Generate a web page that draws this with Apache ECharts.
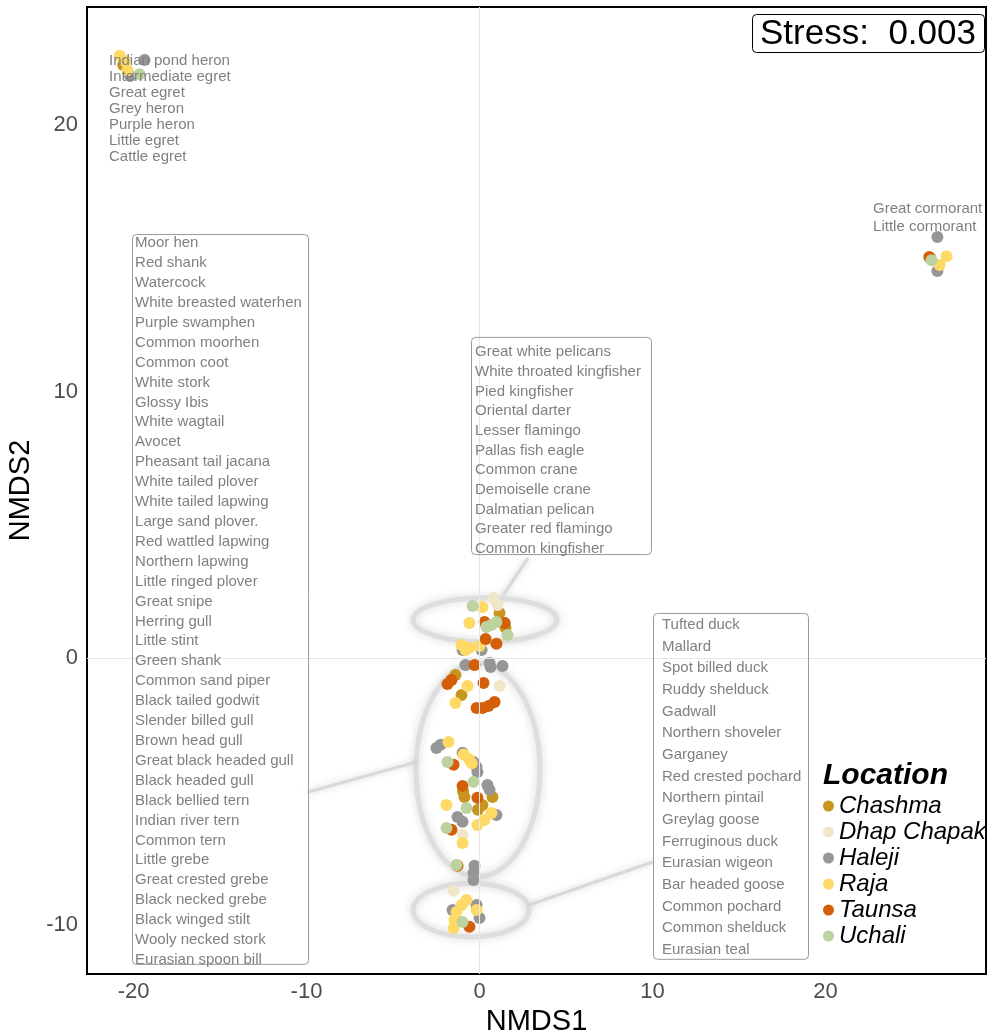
<!DOCTYPE html>
<html>
<head>
<meta charset="utf-8">
<script src="https://cdn.jsdelivr.net/npm/echarts@6/dist/echarts.min.js"></script>
<style>
  html, body { margin: 0; padding: 0; background: #ffffff; }
  #chart { width: 989px; height: 1036px; }
</style>
</head>
<body>
<div id="chart"></div>
<script>
// NMDS site scores, one array per location: [NMDS1, NMDS2]
const locations = ['Chashma', 'Dhap Chapak', 'Haleji', 'Raja', 'Taunsa', 'Uchali'];

const chashma = [
  [-20.6, 22.25], [26.07, 15.0], [1.16, 1.69], [1.45, 1.31], [1.5, 1.13],
  [-1.39, -0.64], [-1.04, -1.39], [-0.95, -5.0], [-0.87, -5.22], [0.75, -5.22],
  [0.17, -5.52], [-0.09, -5.7]
];
const dhapChapak = [
  [0.81, 2.25], [1.04, 1.99], [1.16, -1.05], [-0.98, -6.64], [-1.5, -8.74]
];
const haleji = [
  [-19.36, 22.44], [-20.2, 21.84], [26.47, 15.8], [26.47, 14.52],
  [-0.98, 0.3], [0.12, 0.3], [-0.81, -0.26], [0.58, -0.19], [0.64, -0.34], [1.33, -0.3],
  [-2.49, -3.38], [-2.25, -3.26], [-0.98, -3.56], [-0.35, -3.9], [-0.17, -4.09], [-0.12, -4.28],
  [0.46, -4.77], [0.58, -4.95], [-1.27, -5.97], [-0.98, -6.15], [0.98, -5.89],
  [-0.29, -7.8], [-0.35, -8.07], [-0.35, -8.33], [-1.56, -9.46], [-0.17, -9.27], [0.0, -9.76]
];
const raja = [
  [-20.8, 22.6], [-20.5, 22.4], [-20.35, 22.06], [27.0, 15.08], [26.6, 14.75],
  [0.17, 1.91], [-0.58, 1.31], [-1.04, 0.49], [-0.58, 0.38], [0.0, 0.45], [-0.8, 0.3],
  [-0.69, -1.05], [-1.39, -1.69], [-1.79, -3.15], [-0.92, -3.62], [-0.6, -3.8], [-0.45, -3.95],
  [-1.91, -5.52], [-0.12, -6.27], [0.29, -6.08], [0.69, -5.82], [-0.98, -6.94],
  [-0.75, -9.08], [-1.04, -9.27], [-1.33, -9.53], [-1.45, -9.83], [-1.5, -10.13], [-0.17, -9.46]
];
const taunsa = [
  [26.0, 15.05], [0.29, 1.35], [1.45, 1.31], [0.35, 0.71], [0.98, 0.53],
  [-0.29, -0.26], [-1.85, -0.98], [-1.62, -0.83], [0.23, -0.94],
  [-0.17, -1.88], [0.17, -1.88], [0.52, -1.8], [0.87, -1.65],
  [-1.5, -4.01], [-0.98, -4.8], [-0.12, -5.25], [-1.62, -6.45], [-1.27, -7.8], [-0.58, -10.09]
];
const uchali = [
  [-19.65, 21.91], [26.13, 14.93], [-0.4, 1.95], [0.4, 1.16], [0.69, 1.24], [0.98, 1.35],
  [1.62, 0.86], [-1.85, -3.9], [-0.35, -4.65], [-0.75, -5.63], [-1.91, -6.38],
  [-1.33, -7.77], [-0.98, -9.91]
];

const xTicks = [-20, -10, 0, 10, 20];
const yTicks = [-10, 0, 10, 20];
const stressValue = '0.003';

// Species grouped by the cluster they belong to
const heronSpecies = ['Indian pond heron', 'Intermediate egret', 'Great egret', 'Grey heron',
  'Purple heron', 'Little egret', 'Cattle egret'];
const cormorantSpecies = ['Great cormorant', 'Little cormorant'];
const waderSpecies = ['Moor hen', 'Red shank', 'Watercock', 'White breasted waterhen', 'Purple swamphen',
  'Common moorhen', 'Common coot', 'White stork', 'Glossy Ibis', 'White wagtail', 'Avocet',
  'Pheasant tail jacana', 'White tailed plover', 'White tailed lapwing', 'Large sand plover.',
  'Red wattled lapwing', 'Northern lapwing', 'Little ringed plover', 'Great snipe', 'Herring gull',
  'Little stint', 'Green shank', 'Common sand piper', 'Black tailed godwit', 'Slender billed gull',
  'Brown head gull', 'Great black headed gull', 'Black headed gull', 'Black bellied tern',
  'Indian river tern', 'Common tern', 'Little grebe', 'Great crested grebe', 'Black necked grebe',
  'Black winged stilt', 'Wooly necked stork', 'Eurasian spoon bill'];
const pelicanSpecies = ['Great white pelicans', 'White throated kingfisher', 'Pied kingfisher',
  'Oriental darter', 'Lesser flamingo', 'Pallas fish eagle', 'Common crane', 'Demoiselle crane',
  'Dalmatian pelican', 'Greater red flamingo', 'Common kingfisher'];
const duckSpecies = ['Tufted duck', 'Mallard', 'Spot billed duck', 'Ruddy shelduck', 'Gadwall',
  'Northern shoveler', 'Garganey', 'Red crested pochard', 'Northern pintail', 'Greylag goose',
  'Ferruginous duck', 'Eurasian wigeon', 'Bar headed goose', 'Common pochard', 'Common shelduck',
  'Eurasian teal'];

const seriesData = [chashma, dhapChapak, haleji, raja, taunsa, uchali];
const palette = ['#C8961E', '#F0E6C8', '#969696', '#FFD966', '#D35F0A', '#BCD3A0'];

const FONT = '"Liberation Sans", Arial, Helvetica, sans-serif';
const LABEL_GREY = '#808080';

// Annotation layout, in axis units
const labelGroups = [
  { names: heronSpecies, x: -21.42, firstY: 22.40, lineStep: 16, box: null },
  { names: cormorantSpecies, x: 22.75, firstY: 16.85, lineStep: 18, box: null },
  { names: waderSpecies, x: -19.91, firstY: 15.57, lastY: -11.33,
    box: { x0: -20.09, x1: -9.91, y0: 15.91, y1: -11.48 } },
  { names: pelicanSpecies, x: -0.26, firstY: 11.48, lastY: 4.09,
    box: { x0: -0.49, x1: 9.91, y0: 12.05, y1: 3.90 } },
  { names: duckSpecies, x: 10.55, firstY: 1.24, lastY: -10.96,
    box: { x0: 10.03, x1: 18.99, y0: 1.69, y1: -11.29 } }
];
const clusterEllipses = [
  { cx: 0.32, cy: 1.43, rx: 4.16, ry: 0.83 },
  { cx: -0.09, cy: -4.2, rx: 3.58, ry: 4.01 },
  { cx: -0.49, cy: -9.46, rx: 3.35, ry: 1.01 }
];
const connectors = [
  [[1.36, 2.36], [2.8, 3.75]],
  [[-3.61, -3.9], [-9.91, -5.03]],
  [[2.86, -9.27], [10.03, -7.65]]
];

const GRID = { left: 87, right: 3, top: 7, bottom: 62 };

const chart = echarts.init(document.getElementById('chart'), null, { renderer: 'canvas' });

const tickFormatter = ticks => v => (ticks.some(t => Math.abs(t - v) < 1e-9) ? String(v) : '');

const series = locations.map((name, i) => ({
  name: name,
  type: 'scatter',
  data: seriesData[i],
  symbol: 'circle',
  symbolSize: 12,
  itemStyle: { color: palette[i], opacity: 1 },
  z: 3
}));

// Zero reference lines
series.unshift({
  name: '__zero',
  type: 'line',
  data: [],
  silent: true,
  z: 1,
  markLine: {
    silent: true,
    symbol: 'none',
    label: { show: false },
    lineStyle: { color: '#e6e6e6', width: 1, type: 'solid' },
    data: [{ xAxis: 0 }, { yAxis: 0 }]
  }
});

chart.setOption({
  animation: false,
  backgroundColor: '#ffffff',
  textStyle: { fontFamily: FONT },
  grid: {
    left: GRID.left, right: GRID.right, top: GRID.top, bottom: GRID.bottom,
    containLabel: false, outerBoundsMode: 'none',
    show: true, borderColor: '#000000', borderWidth: 2, backgroundColor: 'transparent'
  },
  xAxis: {
    type: 'value', min: -22.69, max: 29.28,
    name: 'NMDS1', nameLocation: 'middle', nameGap: 29,
    nameTextStyle: { fontSize: 29, color: '#000000', fontFamily: FONT },
    axisLine: { show: false }, axisTick: { show: false }, splitLine: { show: false },
    axisLabel: { fontSize: 22, color: '#4d4d4d', margin: 7, fontFamily: FONT,
      formatter: tickFormatter(xTicks) }
  },
  yAxis: {
    type: 'value', min: -11.86, max: 24.43,
    name: 'NMDS2', nameLocation: 'middle', nameGap: 48, nameRotate: 90,
    nameTextStyle: { fontSize: 29, color: '#000000', fontFamily: FONT },
    axisLine: { show: false }, axisTick: { show: false }, splitLine: { show: false },
    axisLabel: { fontSize: 22, color: '#4d4d4d', margin: 9, fontFamily: FONT,
      formatter: tickFormatter(yTicks) }
  },
  legend: {
    data: locations,
    orient: 'vertical',
    left: 818, top: 789,
    icon: 'circle',
    itemWidth: 11, itemHeight: 11, itemGap: 2,
    textStyle: { fontSize: 24, fontStyle: 'italic', color: '#000000', lineHeight: 23, fontFamily: FONT }
  },
  series: series
});

function px(x, y) { return chart.convertToPixel({ gridIndex: 0 }, [x, y]); }

function buildAnnotations() {
  const els = [];

  clusterEllipses.forEach(e => {
    const c = px(e.cx, e.cy);
    const r = px(e.cx + e.rx, e.cy + e.ry);
    els.push({
      type: 'ellipse', silent: true, z: 1,
      shape: { cx: c[0], cy: c[1], rx: Math.abs(r[0] - c[0]), ry: Math.abs(c[1] - r[1]) },
      style: { fill: 'none', stroke: 'rgba(215,215,215,0.7)', lineWidth: 5,
        shadowBlur: 9, shadowColor: 'rgba(170,170,170,0.7)' }
    });
  });

  connectors.forEach(seg => {
    const a = px(seg[0][0], seg[0][1]);
    const b = px(seg[1][0], seg[1][1]);
    els.push({
      type: 'line', silent: true, z: 1,
      shape: { x1: a[0], y1: a[1], x2: b[0], y2: b[1] },
      style: { stroke: 'rgba(210,210,210,0.8)', lineWidth: 3,
        shadowBlur: 6, shadowColor: 'rgba(170,170,170,0.6)' }
    });
  });

  labelGroups.forEach(g => {
    if (g.box) {
      const tl = px(g.box.x0, g.box.y0);
      const br = px(g.box.x1, g.box.y1);
      els.push({
        type: 'rect', silent: true, z: 5,
        shape: { x: tl[0] + 0.5, y: tl[1] + 0.5, width: br[0] - tl[0], height: br[1] - tl[1], r: 4 },
        style: { fill: 'rgba(255,255,255,0.0)', stroke: '#9a9a9a', lineWidth: 1 }
      });
    }
    const first = px(g.x, g.firstY);
    let step = g.lineStep;
    if (g.lastY !== undefined) {
      const last = px(g.x, g.lastY);
      step = (last[1] - first[1]) / (g.names.length - 1);
    }
    g.names.forEach((n, k) => {
      els.push({
        type: 'text', silent: true, z: 10,
        x: first[0], y: first[1] + k * step,
        style: { text: n, fill: LABEL_GREY, font: '15px ' + FONT,
          textAlign: 'left', textVerticalAlign: 'middle' }
      });
    });
  });

  // Stress box in the top-right corner of the panel
  const W = chart.getWidth();
  const boxRight = W - GRID.right - 2;
  const boxW = 232, boxH = 38, boxTop = GRID.top + 7;
  els.push({
    type: 'rect', silent: true, z: 10,
    shape: { x: boxRight - boxW + 0.5, y: boxTop + 0.5, width: boxW, height: boxH, r: 4 },
    style: { fill: '#ffffff', stroke: '#000000', lineWidth: 1 }
  });
  els.push({
    type: 'text', silent: true, z: 11,
    x: boxRight - boxW / 2, y: boxTop + boxH / 2 + 1,
    style: { text: 'Stress:  ' + stressValue, fill: '#000000', font: '35px ' + FONT,
      textAlign: 'center', textVerticalAlign: 'middle' }
  });

  // Legend heading
  els.push({
    type: 'text', silent: true, z: 11,
    x: 823, y: 776,
    style: { text: 'Location', fill: '#000000', font: 'italic bold 30px ' + FONT,
      textAlign: 'left', textVerticalAlign: 'middle' }
  });

  chart.setOption({ graphic: { elements: els } });
}

buildAnnotations();
</script>
</body>
</html>
